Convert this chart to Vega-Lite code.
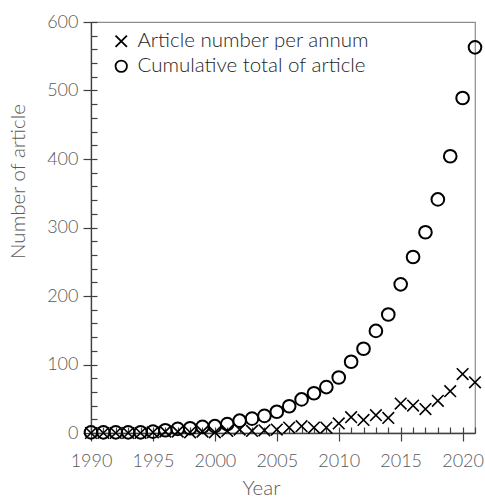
{
  "$schema": "https://vega.github.io/schema/vega-lite/v6.json",
  "width": 384,
  "height": 411,
  "autosize": "none",
  "padding": {"left": 91, "top": 22, "right": 10, "bottom": 66},
  "config": {
    "view": {"stroke": "#8c8c8c", "strokeWidth": 1.2},
    "font": "Lato",
    "axis": {"grid": false, "labelFont": "Lato", "labelFontWeight": 300, "labelFontSize": 18, "labelColor": "#595959", "titleFont": "Lato", "titleFontWeight": 300, "titleFontSize": 20.5, "titleColor": "#595959", "domainColor": "#404040", "tickColor": "#404040", "domainWidth": 1.3, "tickWidth": 1.2, "labelOverlap": false, "labelFlush": false},
    "legend": {"labelFont": "Lato", "labelFontWeight": 300, "labelFontSize": 20.5, "labelColor": "#262626", "labelLimit": 0}
  },
  "data": {"values": [
    {"year": 1990, "series": "Cumulative total of article", "value": 1},
    {"year": 1991, "series": "Cumulative total of article", "value": 1},
    {"year": 1992, "series": "Cumulative total of article", "value": 1},
    {"year": 1993, "series": "Cumulative total of article", "value": 1},
    {"year": 1994, "series": "Cumulative total of article", "value": 1},
    {"year": 1995, "series": "Cumulative total of article", "value": 2},
    {"year": 1996, "series": "Cumulative total of article", "value": 4},
    {"year": 1997, "series": "Cumulative total of article", "value": 6},
    {"year": 1998, "series": "Cumulative total of article", "value": 7},
    {"year": 1999, "series": "Cumulative total of article", "value": 9},
    {"year": 2000, "series": "Cumulative total of article", "value": 10},
    {"year": 2001, "series": "Cumulative total of article", "value": 13},
    {"year": 2002, "series": "Cumulative total of article", "value": 18},
    {"year": 2003, "series": "Cumulative total of article", "value": 21},
    {"year": 2004, "series": "Cumulative total of article", "value": 25},
    {"year": 2005, "series": "Cumulative total of article", "value": 31},
    {"year": 2006, "series": "Cumulative total of article", "value": 39},
    {"year": 2007, "series": "Cumulative total of article", "value": 49},
    {"year": 2008, "series": "Cumulative total of article", "value": 58},
    {"year": 2009, "series": "Cumulative total of article", "value": 67},
    {"year": 2010, "series": "Cumulative total of article", "value": 81},
    {"year": 2011, "series": "Cumulative total of article", "value": 104},
    {"year": 2012, "series": "Cumulative total of article", "value": 123},
    {"year": 2013, "series": "Cumulative total of article", "value": 149},
    {"year": 2014, "series": "Cumulative total of article", "value": 173},
    {"year": 2015, "series": "Cumulative total of article", "value": 217},
    {"year": 2016, "series": "Cumulative total of article", "value": 257},
    {"year": 2017, "series": "Cumulative total of article", "value": 293},
    {"year": 2018, "series": "Cumulative total of article", "value": 341},
    {"year": 2019, "series": "Cumulative total of article", "value": 404},
    {"year": 2020, "series": "Cumulative total of article", "value": 489},
    {"year": 2021, "series": "Cumulative total of article", "value": 563},
    {"year": 1990, "series": "Article number per annum", "value": 0},
    {"year": 1991, "series": "Article number per annum", "value": 0},
    {"year": 1992, "series": "Article number per annum", "value": 0},
    {"year": 1993, "series": "Article number per annum", "value": 0},
    {"year": 1994, "series": "Article number per annum", "value": 0},
    {"year": 1995, "series": "Article number per annum", "value": 1},
    {"year": 1996, "series": "Article number per annum", "value": 2},
    {"year": 1997, "series": "Article number per annum", "value": 2},
    {"year": 1998, "series": "Article number per annum", "value": 1},
    {"year": 1999, "series": "Article number per annum", "value": 2},
    {"year": 2000, "series": "Article number per annum", "value": 1},
    {"year": 2001, "series": "Article number per annum", "value": 3},
    {"year": 2002, "series": "Article number per annum", "value": 5},
    {"year": 2003, "series": "Article number per annum", "value": 3},
    {"year": 2004, "series": "Article number per annum", "value": 4},
    {"year": 2005, "series": "Article number per annum", "value": 5},
    {"year": 2006, "series": "Article number per annum", "value": 8},
    {"year": 2007, "series": "Article number per annum", "value": 10},
    {"year": 2008, "series": "Article number per annum", "value": 8},
    {"year": 2009, "series": "Article number per annum", "value": 8},
    {"year": 2010, "series": "Article number per annum", "value": 14},
    {"year": 2011, "series": "Article number per annum", "value": 23},
    {"year": 2012, "series": "Article number per annum", "value": 19},
    {"year": 2013, "series": "Article number per annum", "value": 26},
    {"year": 2014, "series": "Article number per annum", "value": 22},
    {"year": 2015, "series": "Article number per annum", "value": 43},
    {"year": 2016, "series": "Article number per annum", "value": 40},
    {"year": 2017, "series": "Article number per annum", "value": 35},
    {"year": 2018, "series": "Article number per annum", "value": 47},
    {"year": 2019, "series": "Article number per annum", "value": 61},
    {"year": 2020, "series": "Article number per annum", "value": 86},
    {"year": 2021, "series": "Article number per annum", "value": 74}
  ]},
  "resolve": {"axis": {"x": "independent", "y": "independent"}},
  "layer": [
    {
      "transform": [{"filter": "datum.series === 'Cumulative total of article'"}],
      "mark": {"type": "point", "filled": false, "stroke": "#000000", "strokeWidth": 2, "size": 160, "opacity": 1, "clip": false},
      "encoding": {
        "x": {"field": "year", "type": "quantitative", "scale": {"domain": [1990, 2021], "nice": false, "zero": false},
              "axis": {"orient": "bottom", "values": [1990, 1995, 2000, 2005, 2010, 2015, 2020], "format": "d", "tickSize": 8, "labelPadding": 11, "title": "Year", "titleX": 170, "titleY": 61, "titleBaseline": "alphabetic"}},
        "y": {"field": "value", "type": "quantitative", "scale": {"domain": [0, 600], "nice": false},
              "axis": {"orient": "left", "values": [0, 100, 200, 300, 400, 500, 600], "tickSize": 8, "labelPadding": 5, "title": "Number of article", "titleX": -67, "titleY": 159, "titleBaseline": "alphabetic"}},
        "shape": {"field": "series", "type": "nominal",
                  "scale": {"domain": ["Article number per annum", "Cumulative total of article"], "range": ["M-1,-1L1,1M-1,1L1,-1", "circle"]},
                  "legend": {"title": null, "orient": "none", "legendX": 20, "legendY": 9, "symbolSize": 130, "symbolStrokeColor": "#000000", "symbolStrokeWidth": 1.8, "symbolFillColor": "transparent", "labelOffset": 6, "rowPadding": 4}}
      }
    },
    {
      "transform": [{"filter": "datum.series === 'Article number per annum'"}],
      "mark": {"type": "point", "filled": false, "stroke": "#000000", "strokeWidth": 1.6, "size": 135, "opacity": 1, "clip": false},
      "encoding": {
        "x": {"field": "year", "type": "quantitative",
              "axis": {"orient": "bottom", "values": [1990,1991,1992,1993,1994,1995,1996,1997,1998,1999,2000,2001,2002,2003,2004,2005,2006,2007,2008,2009,2010,2011,2012,2013,2014,2015,2016,2017,2018,2019,2020,2021], "tickSize": -6, "labels": false, "domain": false, "title": null}},
        "y": {"field": "value", "type": "quantitative",
              "axis": {"orient": "left", "values": [0,20,40,60,80,100,120,140,160,180,200,220,240,260,280,300,320,340,360,380,400,420,440,460,480,500,520,540,560,580,600], "tickSize": -6, "labels": false, "domain": false, "title": null}},
        "shape": {"field": "series", "type": "nominal"}
      }
    }
  ]
}
